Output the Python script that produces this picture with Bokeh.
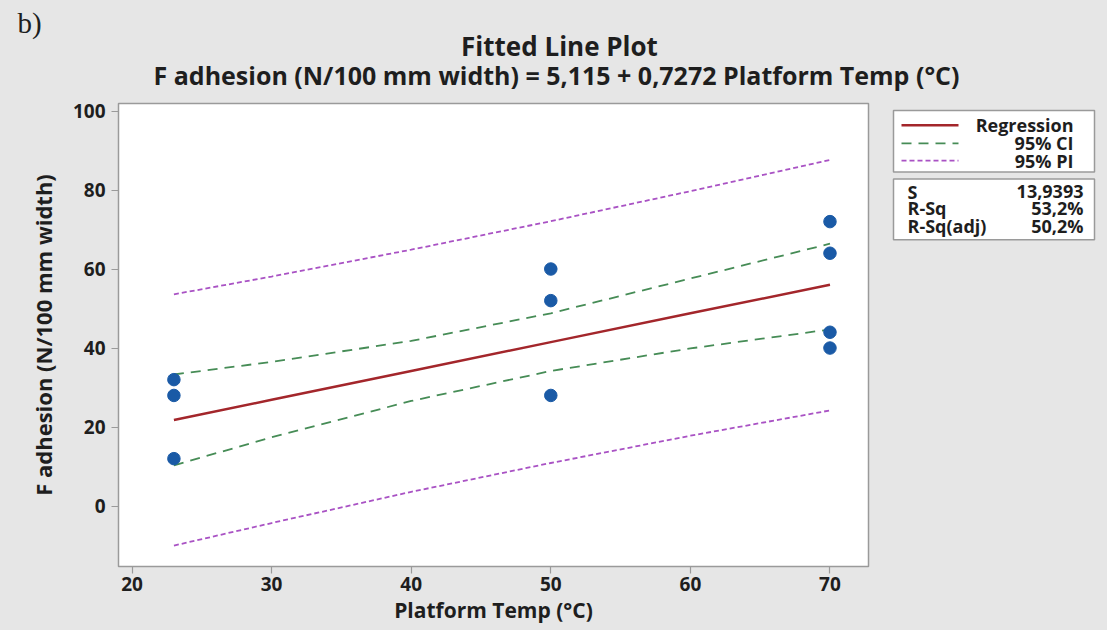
from bokeh.plotting import figure
from bokeh.models import Range1d, FixedTicker
from bokeh.layouts import column, row
from bokeh.core.properties import value
from bokeh.embed import file_html
from bokeh.resources import INLINE

# ---- data ----
temp_x = [23, 23, 23, 50, 50, 50, 70, 70, 70, 70]
adhesion_y = [32, 28, 12, 60, 52, 28, 72, 64, 44, 40]
fit_x = [23, 30, 40, 50, 60, 70]
fit_y = [21.8, 26.9, 34.2, 41.5, 48.8, 56.0]
ci_upper = [33.3, 36.5, 41.8, 48.8, 57.6, 66.4]
ci_lower = [10.3, 17.4, 26.6, 34.2, 39.9, 44.7]
pi_upper = [53.6, 58.1, 64.9, 72.1, 79.7, 87.6]
pi_lower = [-10.0, -4.3, 3.6, 10.9, 17.8, 24.2]
x_ticks = [20, 30, 40, 50, 60, 70]
y_ticks = [0, 20, 40, 60, 80, 100]
legend_labels = ["Regression", "95% CI", "95% PI"]
stat_names = ["S", "R-Sq", "R-Sq(adj)"]
stat_values = ["13,9393", "53,2%", "50,2%"]
panel_tag = "b)"
title_text = "Fitted Line Plot"
subtitle_text = "F adhesion (N/100 mm width) = 5,115 + 0,7272 Platform Temp (°C)"

FONT = "Open Sans"
TXT = "#1e1e1e"
BG = "#e6e6e6"
RED = "#a3262b"
GREEN = "#468c56"
PURPLE = "#a952c4"
BLUE = "#1a5aa6"
BORDER = "#9a9a9a"
STY = {"background-color": BG}


def blank(w, h):
    f = figure(width=w, height=h, output_backend="svg", toolbar_location=None,
               x_range=Range1d(0, w), y_range=Range1d(h, 0),
               x_axis_location=None, y_axis_location=None,
               min_border=0, min_border_left=0, min_border_right=0,
               min_border_top=0, min_border_bottom=0, styles=STY)
    f.background_fill_color = BG
    f.border_fill_color = BG
    f.outline_line_color = None
    f.xgrid.visible = False
    f.ygrid.visible = False
    return f


def txt(f, x, y, t, size, align="center", style="bold", font=FONT):
    f.text(x=[x], y=[y], text=[t], text_font=value(font), text_font_style=style,
           text_font_size=size, text_align=align, text_baseline="middle",
           text_color=TXT)


# ---- title strip ----
top = blank(1107, 96)
txt(top, 17, 22, panel_tag, "29px", align="left", style="normal", font="Liberation Serif")
txt(top, 559, 45, title_text, "26px")
txt(top, 556, 74, subtitle_text, "25px")

# ---- main plot ----
p = figure(width=880, height=534, output_backend="svg", toolbar_location=None,
           x_range=Range1d(19.03, 72.76), y_range=Range1d(-15.3, 101.9),
           min_border_left=118, min_border_right=12, min_border_top=7,
           min_border_bottom=64, styles=STY)
p.background_fill_color = "white"
p.border_fill_color = BG
p.outline_line_color = BORDER
p.outline_line_width = 1.5
p.xgrid.visible = False
p.ygrid.visible = False

for ax in (p.xaxis[0], p.yaxis[0]):
    ax.axis_line_color = None
    ax.major_tick_line_color = BORDER
    ax.major_tick_line_width = 1.2
    ax.major_tick_out = 7
    ax.major_tick_in = 0
    ax.minor_tick_line_color = None
    ax.major_label_text_font = FONT
    ax.major_label_text_font_style = "bold"
    ax.major_label_text_font_size = "19px"
    ax.major_label_text_color = TXT
    ax.axis_label_text_font = FONT
    ax.axis_label_text_font_style = "bold"
    ax.axis_label_text_color = TXT
p.xaxis.ticker = FixedTicker(ticks=x_ticks)
p.yaxis.ticker = FixedTicker(ticks=y_ticks)
p.xaxis.axis_label = "Platform Temp (°C)"
p.yaxis.axis_label = "F adhesion (N/100 mm width)"
p.xaxis.axis_label_text_font_size = "21px"
p.yaxis.axis_label_text_font_size = "22px"
p.xaxis.major_label_standoff = 3
p.yaxis.major_label_standoff = 6
p.xaxis.axis_label_standoff = 2
p.yaxis.axis_label_standoff = 12

p.line(fit_x, pi_upper, line_color=PURPLE, line_width=1.8, line_dash="5 3")
p.line(fit_x, pi_lower, line_color=PURPLE, line_width=1.8, line_dash="5 3")
p.line(fit_x, ci_upper, line_color=GREEN, line_width=1.8, line_dash="10 7")
p.line(fit_x, ci_lower, line_color=GREEN, line_width=1.8, line_dash="10 7")
p.line(fit_x, fit_y, line_color=RED, line_width=2.5)
p.scatter(temp_x, adhesion_y, size=12.5, fill_color=BLUE, line_color=BLUE)

# ---- legend / stats panel ----
leg = blank(227, 534)
leg.quad(left=[13, 13], right=[214, 214], top=[8, 87], bottom=[79, 157],
         fill_color="white", line_color=BORDER, line_width=1.5)
leg_styles = [(RED, None, 2.5), (GREEN, "10 7", 1.8), (PURPLE, "5 3", 1.8)]
leg_y = [25, 46, 66]
for (col, dash, w), yy, name in zip(leg_styles, leg_y, legend_labels):
    kw = dict(line_dash=dash) if dash else {}
    leg.line([21, 78], [yy, yy], line_color=col, line_width=w, **kw)
    txt(leg, 193, yy, name, "18px", align="right")
for name, val, yy in zip(stat_names, stat_values, [102, 121, 141]):
    txt(leg, 27, yy, name, "18px", align="left")
    txt(leg, 203, yy, val, "18px", align="right")

layout = column(top, row(p, leg, spacing=0, styles=STY), spacing=0, styles=STY)
html = file_html(layout, INLINE)
html = html.replace("<body>", '<body style="margin:0;background:#e6e6e6">', 1)
open("out.html", "w").write(html)
